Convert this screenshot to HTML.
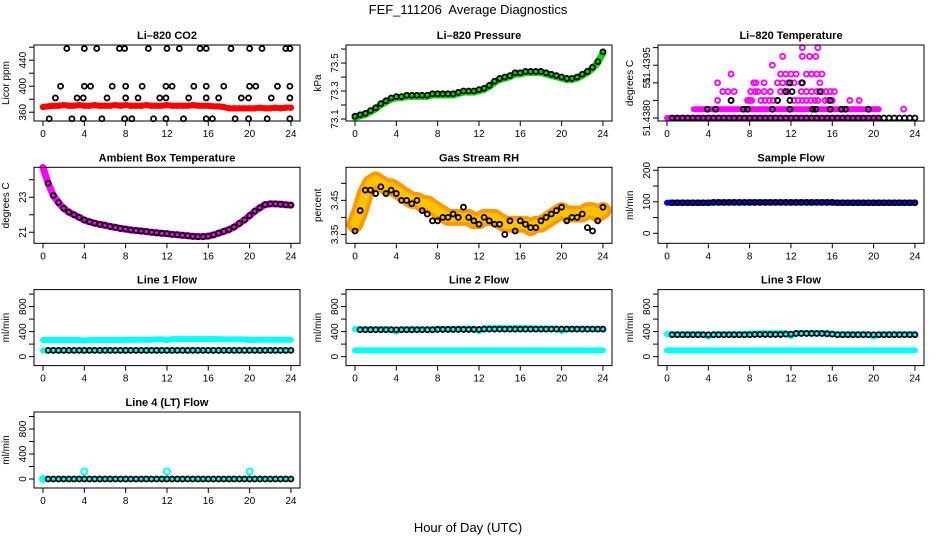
<!DOCTYPE html>
<html><head><meta charset="utf-8"><style>
html,body{margin:0;padding:0;background:#fff;width:936px;height:540px;overflow:hidden}
svg{display:block;font-family:"Liberation Sans",Arial,sans-serif}
</style></head><body>
<svg id="c" width="936" height="540" viewBox="0 0 936 540" xmlns="http://www.w3.org/2000/svg">
<text x="468" y="14" text-anchor="middle" font-size="13" style="white-space:pre">FEF_111206  Average Diagnostics</text>
<text x="468" y="532" text-anchor="middle" font-size="13">Hour of Day (UTC)</text>
</svg>
<script>
const hours49=[0,0.5,1,1.5,2,2.5,3,3.5,4,4.5,5,5.5,6,6.5,7,7.5,8,8.5,9,9.5,10,10.5,11,11.5,12,12.5,13,13.5,14,14.5,15,15.5,16,16.5,17,17.5,18,18.5,19,19.5,20,20.5,21,21.5,22,22.5,23,23.5,24];
const xTicks=[0,4,8,12,16,20,24];
// CO2
const co2Red=[368,369,370,370,371,370,370,371,370,370,371,370,370,370,371,370,371,370,370,370,371,370,370,370,371,370,370,370,370,371,370,370,370,369,369,368,366,366,366,366,366,366,367,366,366,367,366,367,367];
const co2T458=[2.3,4,5.2,7.4,7.9,10.2,12,13.2,15.2,15.8,18.2,20,21.2,23.5,23.9];
const co2T400=[1.7,4,4.6,6.7,8,9.6,11.9,12.5,14.6,15.8,17.5,20,20.6,22.7,23.9];
const co2T382=[1.2,3.3,3.9,6.2,8,9.2,11.3,11.9,14.1,15.8,17,19.2,19.9,22.1,23.9];
const co2T350=[0.6,2.8,3.9,5.7,7.9,8.6,10.7,11.9,13.6,15.8,16.4,18.6,19.9,21.7,23.9];
// Pressure
const pres=[73.12,73.13,73.14,73.16,73.18,73.21,73.23,73.25,73.26,73.26,73.27,73.27,73.27,73.27,73.27,73.28,73.28,73.28,73.28,73.28,73.29,73.30,73.30,73.30,73.31,73.32,73.34,73.37,73.39,73.40,73.41,73.43,73.43,73.44,73.44,73.44,73.44,73.43,73.42,73.41,73.40,73.39,73.39,73.40,73.42,73.44,73.47,73.51,73.58];
// Li-820 temperature (quantized levels)
const tempMagT=[4.9,6.2,7.8,8.0,8.2,9.1,9.5,9.9,10.3,10.7,12.3,12.7,13.1,13.5,13.9,14.3,14.6,15.3,15.6,16.0,17.7,18.6,5.4,5.9,6.5,8.1,8.5,8.8,9.4,10.0,11.0,11.4,11.7,13.0,13.5,14.0,14.5,15.0,15.4,15.8,16.2,4.9,8.4,8.6,9.4,10.7,11.2,11.7,12.3,13.0,14.8,6.2,11.0,11.5,12.0,12.5,13.5,14.0,14.5,15.0,10.2,11.2,13.1,13.8,14.4,13.1,14.6,22.9];
const tempMagL=[2,2,2,2,2,2,2,2,2,2,2,2,2,2,2,2,2,2,2,2,2,2,3,3,3,3,3,3,3,3,3,3,3,3,3,3,3,3,3,3,3,4,4,4,4,4,4,4,4,4,4,5,5,5,5,5,5,5,5,5,6,7,7,7,7,8,8,1];
const tempBlkT=[3.9,4.7,7.4,7.8,10.2,11.9,14.1,14.4,15.8,16.9,17.3,19.5,6.2,10.7,11.9,15.8,11.5,12.1,14.8,11.9,13.1];
const tempBlkL=[1,1,1,1,1,1,1,1,1,1,1,1,2,2,2,2,3,3,3,4,4];
// Ambient
const amb=[24.7,23.8,23.1,22.7,22.37,22.15,22.0,21.85,21.7,21.6,21.52,21.45,21.4,21.33,21.28,21.22,21.18,21.13,21.1,21.07,21.04,21.0,20.97,20.94,20.92,20.88,20.86,20.83,20.8,20.77,20.75,20.75,20.78,20.85,20.95,21.05,21.15,21.3,21.5,21.7,21.95,22.2,22.4,22.58,22.62,22.62,22.6,22.57,22.55];
// RH
const rhBand=[3.38,3.42,3.47,3.50,3.51,3.50,3.49,3.49,3.48,3.47,3.46,3.45,3.45,3.44,3.44,3.43,3.42,3.41,3.40,3.40,3.40,3.40,3.40,3.39,3.39,3.40,3.40,3.40,3.39,3.38,3.38,3.38,3.38,3.38,3.37,3.38,3.38,3.39,3.40,3.41,3.42,3.41,3.41,3.41,3.41,3.42,3.42,3.41,3.42];
const rhBlk=[3.36,3.42,3.48,3.48,3.47,3.49,3.47,3.48,3.47,3.45,3.45,3.44,3.45,3.42,3.41,3.39,3.39,3.40,3.40,3.41,3.40,3.43,3.40,3.39,3.38,3.40,3.39,3.38,3.38,3.35,3.39,3.36,3.39,3.38,3.37,3.37,3.39,3.40,3.41,3.42,3.43,3.39,3.40,3.40,3.41,3.37,3.36,3.39,3.43];
// Flows
const sampleFlow=[97,97,97,97,97,97,97,97,97,98,98,98,98,98,98,98,98,98,98,98,98,98,98,98,98,98,98,98,98,98,98,98,98,97,97,97,97,97,97,97,97,97,97,97,97,97,97,97,97];
const line1Cyan=[265,265,265,265,265,265,265,265,255,265,265,265,265,265,265,265,270,270,270,270,270,270,275,275,265,280,280,280,280,280,280,280,280,280,280,275,275,275,275,275,265,270,270,270,270,270,270,270,270];
const line1Blk=[100,100,100,100,100,100,100,100,100,100,100,100,100,100,100,100,100,100,100,100,100,100,100,100,100,100,100,100,100,100,100,100,100,100,100,100,100,100,100,100,100,100,100,100,100,100,100,100,100];
const line2Cyan=[440,440,440,440,440,440,440,440,400,440,440,440,440,440,440,440,445,445,445,445,445,450,450,450,410,455,455,455,455,455,455,455,455,455,455,450,450,450,450,450,410,445,445,445,445,445,445,445,445];
const line2Blk=[430,430,430,430,430,430,430,430,430,430,430,430,430,430,430,430,435,435,435,435,435,435,435,435,435,440,440,440,440,440,440,440,440,440,440,440,440,440,440,440,440,440,440,440,440,440,440,440,440];
const lowCyan=[100,100,100,100,100,100,100,100,100,100,100,100,100,100,100,100,100,100,100,100,100,100,100,100,100,100,100,100,100,100,100,100,100,100,100,100,100,100,100,100,100,100,100,100,100,100,100,100,100];
const line3Cyan=[360,360,360,360,360,360,360,360,320,360,360,360,360,360,360,360,370,370,375,375,375,375,375,375,330,380,380,380,380,380,380,375,365,360,360,360,360,360,360,360,320,360,360,360,360,360,360,360,360];
const line3Blk=[350,350,350,350,350,350,350,350,350,350,350,350,350,350,350,350,350,355,355,355,355,355,355,360,360,370,370,370,370,370,370,365,360,350,350,350,350,350,350,350,350,350,350,350,350,350,350,350,350];
const line4Blk=[0,0,0,0,0,0,0,0,0,0,0,0,0,0,0,0,0,0,0,0,0,0,0,0,0,0,0,0,0,0,0,0,0,0,0,0,0,0,0,0,0,0,0,0,0,0,0,0,0];
const line4CyanT=[0,4,12,20];
const line4CyanV=[0,120,120,120];
const flowTicks=[0,200,400,600,800,1000];
const flowLabels=["0","","400","","800",""];

const NS="http://www.w3.org/2000/svg";
const svg=document.getElementById('c');
const cols=[34,346,658], rows=[45,167.3,289.6,412], BW=266, BH=76;
function mk(tag,attrs,parent){const e=document.createElementNS(NS,tag);for(const k in attrs)e.setAttribute(k,attrs[k]);(parent||svg).appendChild(e);return e;}
function panel(c,r,name,title,ylab,ymin,ymax,yt,yl){
  const L=cols[c],T=rows[r];
  const g=mk('g',{});
  
  
  const X=t=>L+9+t*10.33, Y=v=>T+BH-(v-ymin)/(ymax-ymin)*BH;
  const tt=mk('text',{x:L+BW/2,y:T-6,'text-anchor':'middle','font-size':11,'font-weight':'bold'},g);tt.textContent=title;
  
  
  const yl2=mk('text',{transform:`translate(${L-25},${T+BH/2}) rotate(-90)`,'text-anchor':'middle','font-size':10},g);yl2.textContent=ylab;
  
  
  xTicks.forEach(t=>{mk('line',{x1:X(t),x2:X(t),y1:T+BH,y2:T+BH+5,stroke:'#000'},g);
    const tx=mk('text',{x:X(t),y:T+BH+16,'text-anchor':'middle','font-size':10},g);tx.textContent=t;
    
    });
  yt.forEach((v,i)=>{mk('line',{x1:L-5,x2:L,y1:Y(v),y2:Y(v),stroke:'#000'},g);
    if(yl[i]){const tx=mk('text',{transform:`translate(${L-8},${Y(v)}) rotate(-90)`,'text-anchor':'middle','font-size':10},g);tx.textContent=yl[i];
    
    }});
  const plot=mk('g',{},g);
  const box=mk('rect',{x:L,y:T,width:BW,height:BH,fill:'none',stroke:'#000','stroke-width':1},g);
  
  
  return {X,Y,g:plot};
}
function pts(p,ts,vs,color,r,sw,name){ts.forEach((t,i)=>{const e=mk('circle',{cx:p.X(t),cy:p.Y(vs[i]),r:r,fill:'none',stroke:color,'stroke-width':sw},p.g);
  
  });}
function band(p,ts,vs,color,w,name){const e=mk('polyline',{points:ts.map((t,i)=>p.X(t)+','+p.Y(vs[i])).join(' '),fill:'none',stroke:color,'stroke-width':w,'stroke-linejoin':'round','stroke-linecap':'round'},p.g);
  
  return e;}
const blk=(p,ts,vs,name)=>pts(p,ts,vs,'#000',2.5,1.8,name);

// CO2
let p=panel(0,0,'co2','Li\u2013820 CO2','Licor ppm',346.5,463.4,[360,380,400,420,440,460],['360','','400','','440','']);
band(p,hours49,co2Red,'#f00',6,'co2-red-band');pts(p,hours49,co2Red,'#f00',2.4,1.5,'co2-red-point');
blk(p,co2T458,co2T458.map(()=>458),'co2-point');blk(p,co2T400,co2T400.map(()=>400),'co2-point');
blk(p,co2T382,co2T382.map(()=>382),'co2-point');blk(p,co2T350,co2T350.map(()=>350),'co2-point');
// Pressure
p=panel(1,0,'pressure','Li\u2013820 Pressure','kPa',73.0857,73.629,[73.1,73.2,73.3,73.4,73.5,73.6],['73.1','','73.3','','73.5','']);
band(p,hours49,pres.map(v=>v-0.008),'#0d0',7,'pressure-green-band');blk(p,hours49,pres,'pressure-point');
// Temperature
p=panel(2,0,'li820-temp','Li\u2013820 Temperature','degrees C',-0.34,8.3,[0,2,4,6,8],['51.4380','','51','51.4395','']);
band(p,[0,20.5],[0,0],'#f0f',6,'temp-magenta-band');band(p,[2.6,20.5],[1,1],'#f0f',6,'temp-magenta-band');
pts(p,tempMagT,tempMagL,'#f0f',2.5,1.9,'temp-magenta-point');
blk(p,hours49.slice(1),hours49.slice(1).map(()=>0),'temp-point');blk(p,tempBlkT,tempBlkL,'temp-point');
// Ambient
p=panel(0,1,'ambient','Ambient Box Temperature','degrees C',20.37,24.71,[21,22,23,24],['21','','23','']);
band(p,hours49,amb,'#f0f',7,'ambient-magenta-band');blk(p,hours49.slice(1),amb.slice(1),'ambient-point');
// RH
p=panel(1,1,'rh','Gas Stream RH','percent',3.324,3.547,[3.35,3.40,3.45,3.50],['3.35','','3.45','']);
band(p,hours49,rhBand,'#f90',17,'rh-orange-band');
const yb=band(p,hours49,rhBand,'#fd0',9,'rh-yellow-band');yb.setAttribute('stroke-opacity','0.6');
blk(p,hours49,rhBlk,'rh-point');
// Sample flow
p=panel(2,1,'sample-flow','Sample Flow','ml/min',-31.7,209.5,[0,50,100,150,200],['0','','100','','200']);
band(p,hours49,sampleFlow,'#00f',6,'sample-flow-blue-band');blk(p,hours49.slice(1),sampleFlow.slice(1),'sample-flow-point');
// Line flows
p=panel(0,2,'line1-flow','Line 1 Flow','ml/min',-144,1072,flowTicks,flowLabels);
band(p,hours49,line1Cyan,'#0ff',6,'line1-cyan-band');band(p,hours49,lowCyan,'#0ff',6,'line1-cyan-low');blk(p,hours49.slice(1),line1Blk.slice(1),'line1-point');
p=panel(1,2,'line2-flow','Line 2 Flow','ml/min',-144,1072,flowTicks,flowLabels);
band(p,hours49,line2Cyan,'#0ff',6,'line2-cyan-band');band(p,hours49,lowCyan,'#0ff',6,'line2-cyan-low');blk(p,hours49.slice(1),line2Blk.slice(1),'line2-point');
p=panel(2,2,'line3-flow','Line 3 Flow','ml/min',-144,1072,flowTicks,flowLabels);
band(p,hours49,line3Cyan,'#0ff',6,'line3-cyan-band');band(p,hours49,lowCyan,'#0ff',6,'line3-cyan-low');blk(p,hours49.slice(1),line3Blk.slice(1),'line3-point');
p=panel(0,3,'line4-flow','Line 4 (LT) Flow','ml/min',-144,1072,flowTicks,flowLabels);
band(p,hours49,line4Blk,'#0ff',5,'line4-cyan-band');pts(p,line4CyanT,line4CyanV,'#0ff',3,2,'line4-cyan-point');blk(p,hours49.slice(1),line4Blk.slice(1),'line4-point');
</script>
</body></html>
